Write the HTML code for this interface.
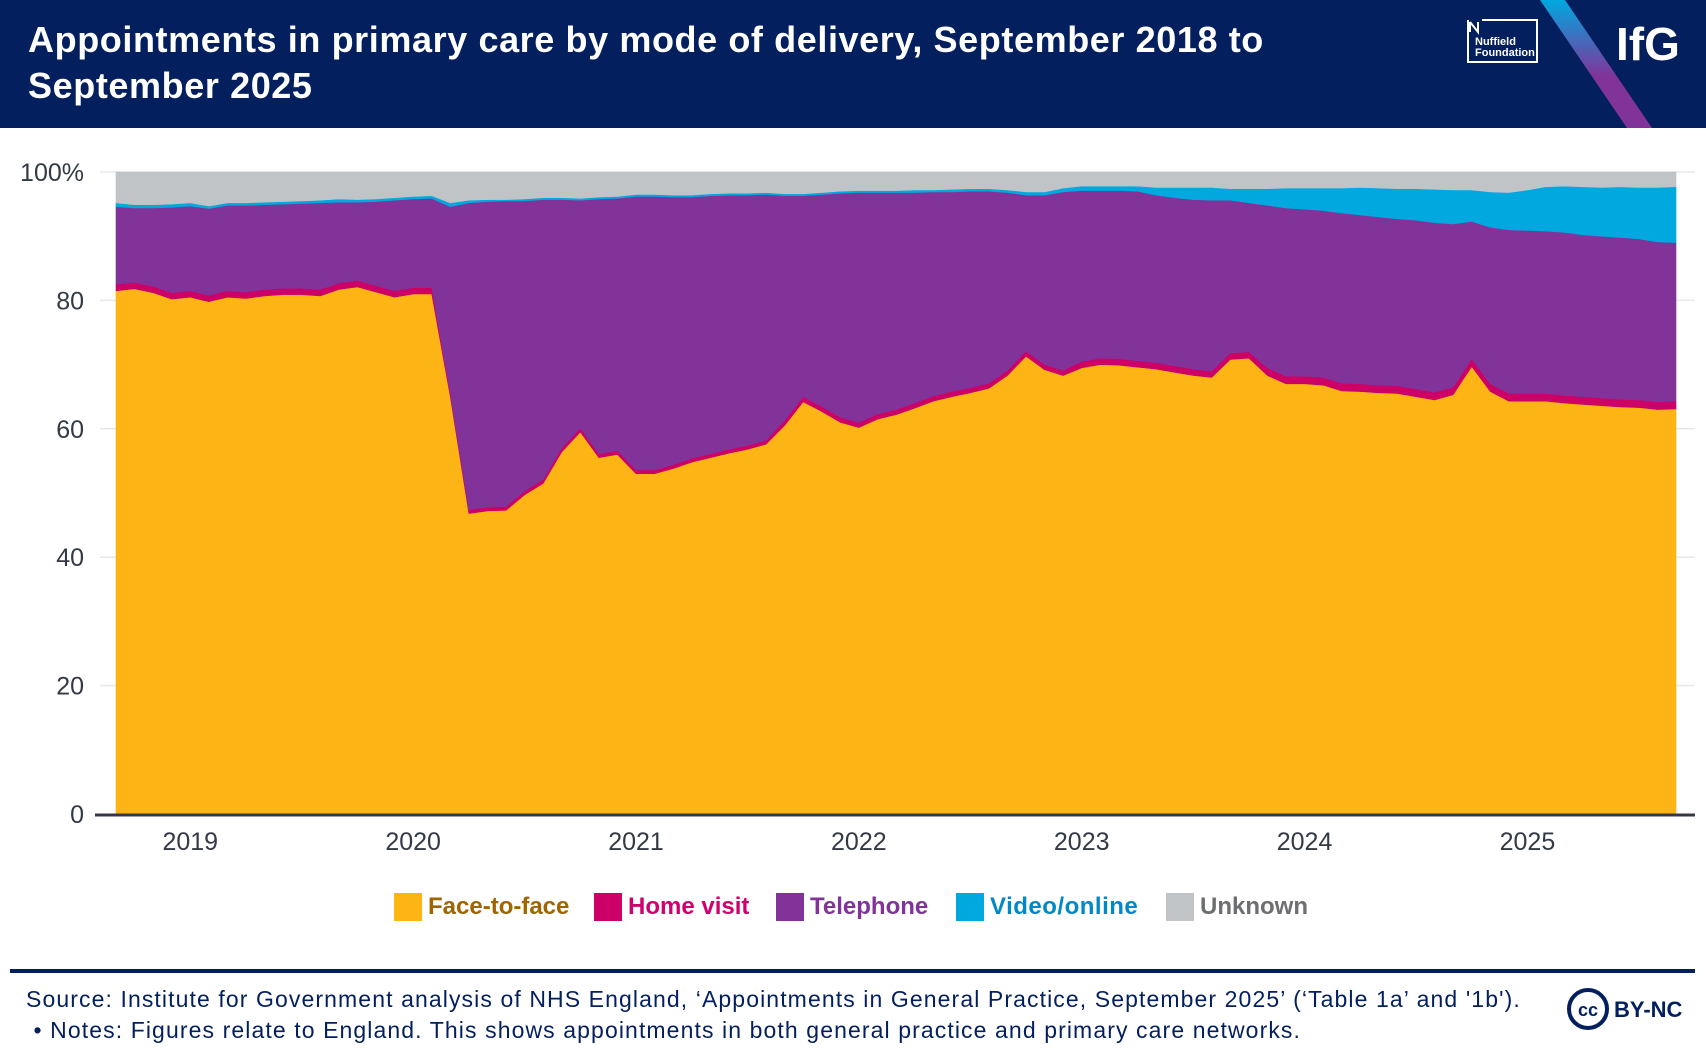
<!DOCTYPE html>
<html><head><meta charset="utf-8">
<style>
html,body{margin:0;padding:0;background:#fff;}
body{width:1706px;height:1060px;position:relative;overflow:hidden;font-family:"Liberation Sans",sans-serif;}
#hdr{position:absolute;left:0;top:0;width:1706px;height:128px;background:#031f5e;overflow:hidden;}
#title{position:absolute;left:28px;top:17px;color:#fff;font-weight:bold;font-size:36px;letter-spacing:0.6px;line-height:46px;width:1360px;}
.leg{position:absolute;top:893px;font-weight:bold;font-size:24px;line-height:28px;}
.sw{display:inline-block;width:28px;height:28px;vertical-align:top;margin-right:6px;}
#foot{position:absolute;left:26px;top:984px;color:#031f5e;font-size:23px;letter-spacing:1.1px;line-height:31px;white-space:nowrap;}
</style></head><body>
<div id="hdr">
  <div id="title">Appointments in primary care by mode of delivery, September 2018 to September 2025</div>
  <svg width="1706" height="128" style="position:absolute;left:0;top:0">
    <defs><linearGradient id="gs" x1="0" y1="0" x2="0" y2="1"><stop offset="0" stop-color="#00a8e0"/><stop offset="0.6" stop-color="#823399"/><stop offset="1" stop-color="#823399"/></linearGradient></defs>
    <polygon points="1540,0 1565,0 1652,128 1627,128" fill="url(#gs)"/>
    <path d="M1468,20 L1468,62 L1537,62 L1537,20 L1482,20" fill="none" stroke="#fff" stroke-width="2"/>
    <path d="M1470,22 L1470,32 M1470,22 L1478,32 L1478,22" fill="none" stroke="#fff" stroke-width="2"/>
    <text x="1475" y="45" fill="#fff" font-size="11" font-weight="bold" font-family="Liberation Sans, sans-serif">Nuffield</text>
    <text x="1475" y="56" fill="#fff" font-size="11" font-weight="bold" font-family="Liberation Sans, sans-serif">Foundation</text>
    <text x="1616" y="60" fill="#fff" font-size="46" font-weight="bold" font-family="Liberation Sans, sans-serif">IfG</text>
  </svg>
</div>
<svg id="chart" width="1706" height="880" style="position:absolute;left:0;top:0"></svg>
<div class="leg" style="left:394px;color:#a06400"><span class="sw" style="background:#fdb515"></span>Face-to-face</div>
<div class="leg" style="left:594px;color:#d0006f"><span class="sw" style="background:#cc0066"></span>Home visit</div>
<div class="leg" style="left:776px;color:#823399"><span class="sw" style="background:#823399"></span>Telephone</div>
<div class="leg" style="left:956px;color:#0089c6;letter-spacing:0.5px"><span class="sw" style="background:#00a8e0"></span>Video/online</div>
<div class="leg" style="left:1166px;color:#6d6e70"><span class="sw" style="background:#c1c4c7"></span>Unknown</div>
<div style="position:absolute;left:10px;top:969px;width:1685px;height:4px;background:#031f5e"></div>
<div id="foot">Source: Institute for Government analysis of NHS England, ‘Appointments in General Practice, September 2025’ (‘Table 1a’ and '1b').<br>&nbsp;• Notes: Figures relate to England. This shows appointments in both general practice and primary care networks.</div>
<svg width="130" height="50" style="position:absolute;left:1566px;top:986px">
  <circle cx="22" cy="23" r="19" fill="#fff" stroke="#031f5e" stroke-width="4"/>
  <text x="22" y="30" text-anchor="middle" font-size="18" font-weight="bold" fill="#031f5e" font-family="Liberation Sans, sans-serif">cc</text>
  <text x="48" y="31" font-size="22" font-weight="bold" fill="#031f5e" font-family="Liberation Sans, sans-serif">BY-NC</text>
</svg>
<script>
const faceToFace=[81.5,81.8,81.2,80.2,80.5,79.8,80.5,80.3,80.7,80.9,80.9,80.7,81.7,82.1,81.3,80.5,81,81,65,46.8,47.2,47.3,49.7,51.5,56.4,59.5,55.5,56,53,53,53.8,54.8,55.5,56.2,56.8,57.6,60.5,64.2,62.7,61,60.2,61.5,62.2,63.2,64.3,65,65.6,66.3,68.3,71.3,69.2,68.3,69.5,70,69.9,69.6,69.3,68.8,68.3,68,70.8,71,68.3,67,67,66.8,65.9,65.8,65.6,65.5,65,64.5,65.3,69.7,65.8,64.3,64.3,64.3,64,63.8,63.6,63.4,63.3,63,63.1];
const homeVisit=[1,1,1,1,1,1,1,1,1,1,1,1,1,1,1,1,1,1,0.6,0.6,0.6,0.6,0.6,0.6,0.6,0.6,0.6,0.6,0.6,0.6,0.6,0.6,0.6,0.6,0.6,0.6,0.8,0.8,0.8,0.8,0.8,0.8,0.8,0.8,0.8,0.8,0.8,0.8,0.8,0.8,0.8,0.8,1,1,1,1,1,1,1,1,1,1,1.2,1.2,1.2,1.2,1.2,1.2,1.2,1.2,1.2,1.2,1.2,1.2,1.2,1.2,1.2,1.2,1.2,1.2,1.2,1.2,1.2,1.2,1.2];
const telephone=[12.1,11.6,12.2,13.3,13.2,13.5,13.3,13.5,13.2,13.1,13.2,13.5,12.6,12.2,13.1,14.1,13.8,13.9,29.0,47.8,47.6,47.6,45.2,43.6,38.7,35.5,39.7,39.3,42.6,42.6,41.7,40.7,40.2,39.6,39.0,38.3,35.0,31.3,33.0,34.9,35.8,34.5,33.8,32.8,31.8,31.1,30.6,29.9,27.7,24.3,26.4,27.8,26.6,26.1,26.2,26.4,26.1,26.2,26.4,26.6,23.8,23.2,25.3,26.2,26.0,26.0,26.5,26.3,26.2,26.0,26.3,26.4,25.4,21.4,24.4,25.5,25.4,25.3,25.4,25.2,25.2,25.2,25.1,24.9,24.7];
const videoOnline=[0.6,0.5,0.5,0.5,0.5,0.4,0.4,0.4,0.4,0.4,0.4,0.4,0.5,0.4,0.4,0.4,0.4,0.4,0.6,0.4,0.3,0.2,0.3,0.3,0.3,0.3,0.3,0.3,0.3,0.3,0.3,0.3,0.3,0.3,0.3,0.3,0.3,0.3,0.3,0.3,0.3,0.3,0.3,0.4,0.3,0.4,0.4,0.4,0.4,0.5,0.5,0.6,0.7,0.7,0.7,0.8,1.2,1.6,1.9,2.0,1.8,2.2,2.6,3.1,3.3,3.5,3.9,4.3,4.5,4.7,4.9,5.2,5.3,4.9,5.5,5.8,6.3,6.9,7.2,7.5,7.6,7.9,8.0,8.5,8.7];
const unknown=[4.8,5.1,5.1,5.0,4.8,5.3,4.8,4.8,4.7,4.6,4.5,4.4,4.2,4.3,4.2,4.0,3.8,3.7,4.8,4.4,4.3,4.3,4.2,4.0,4.0,4.1,3.9,3.8,3.5,3.5,3.6,3.6,3.4,3.3,3.3,3.2,3.4,3.4,3.2,3.0,2.9,2.9,2.9,2.8,2.8,2.7,2.6,2.6,2.8,3.1,3.1,2.5,2.2,2.2,2.2,2.2,2.4,2.4,2.4,2.4,2.6,2.6,2.6,2.5,2.5,2.5,2.5,2.4,2.5,2.6,2.6,2.7,2.8,2.8,3.1,3.2,2.8,2.3,2.2,2.3,2.4,2.3,2.4,2.4,2.3];
const yTicks=[0,20,40,60,80,100];
const yTickLabels=["0","20","40","60","80","100%"];
const xYears=[2019,2020,2021,2022,2023,2024,2025];
const startYear=2018, startMonth=8; // Sep 2018 (0-based month)

const NS="http://www.w3.org/2000/svg";
const svg=document.getElementById('chart');
const X0=116,X1=1676,Y0=814,Y1=172,N=faceToFace.length;
function xScale(i){return X0+(X1-X0)*i/(N-1);}
function xDate(y,m){return xScale((y-startYear)*12+(m-startMonth));}
function yScale(v){return Y0-(Y0-Y1)*v/100;}
function mk(t,a){const e=document.createElementNS(NS,t);for(const k in a)e.setAttribute(k,a[k]);svg.appendChild(e);return e;}

yTicks.forEach((v,i)=>{
  if(v>0){const g=mk('line',{x1:100,x2:1695,y1:yScale(v),y2:yScale(v),stroke:'#e8e8e8','stroke-width':1.5});
  
  }
  const t=mk('text',{x:84,y:yScale(v)+9,'text-anchor':'end','font-size':25,fill:'#333a45','font-family':'Liberation Sans, sans-serif'});
  t.textContent=yTickLabels[i];
  
  
});

const series=[faceToFace,homeVisit,telephone,videoOnline,unknown];
const colors=['#fdb515','#cc0066','#823399','#00a8e0','#c1c4c7'];
const names=['area-face-to-face','area-home-visit','area-telephone','area-video-online','area-unknown'];
const base=new Array(N).fill(0);
series.forEach((s,k)=>{
  const top=base.map((b,i)=>b+s[i]);
  let d='M'+xScale(0)+','+yScale(top[0]);
  for(let i=1;i<N;i++)d+=' L'+xScale(i)+','+yScale(top[i]);
  for(let i=N-1;i>=0;i--)d+=' L'+xScale(i)+','+yScale(base[i]);
  d+='Z';
  const p=mk('path',{d:d,fill:colors[k],stroke:colors[k],'stroke-width':0.6});
  
  
  for(let i=0;i<N;i++)base[i]=top[i];
});

const ax=mk('line',{x1:95,x2:1695,y1:Y0+1,y2:Y0+1,stroke:'#333a45','stroke-width':3});


xYears.forEach(y=>{
  const t=mk('text',{x:xDate(y,0),y:850,'text-anchor':'middle','font-size':25,fill:'#333a45','font-family':'Liberation Sans, sans-serif'});
  t.textContent=y;
  
  
});
</script>
</body></html>
